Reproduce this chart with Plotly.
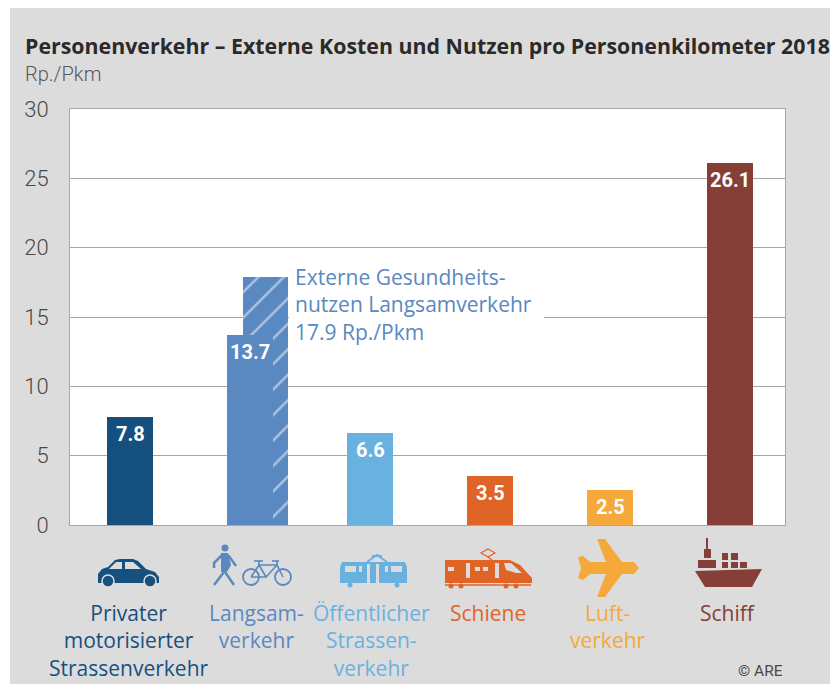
import plotly.graph_objects as go

categories = ["Privater motorisierter Strassenverkehr", "Langsamverkehr", "Öffentlicher Strassenverkehr", "Schiene", "Luftverkehr", "Schiff"]
values = [7.8, 13.7, 6.6, 3.5, 2.5, 26.1]
health_value = [17.9]
value_labels = ["7.8", "13.7", "6.6", "3.5", "2.5", "26.1"]
axis_labels = ["Privater<br>motorisierter<br>Strassenverkehr", "Langsam-<br>verkehr", "Öffentlicher<br>Strassen-<br>verkehr", "Schiene", "Luft-<br>verkehr", "Schiff"]
colors = ["#15507f", "#5a88c0", "#69b2df", "#e06426", "#f4a93a", "#853f37"]
y_ticks = [0, 5, 10, 15, 20, 25, 30]

BG = "#dddcdd"
GRID = "#a9a6a3"
FONT = "Roboto"
W, H = 830, 684
L, R, T, B = 70, 785, 109, 525

def fx(x): return (x - L) / (R - L)
def fy(y): return (B - y) / (B - T)

shapes = []
def poly(pts, color, close=True, width=0, lc=None):
    d = "M" + " L".join(f"{fx(x):.5f},{fy(y):.5f}" for x, y in pts) + (" Z" if close else "")
    shapes.append(dict(type="path", xref="paper", yref="paper", path=d, layer="above",
                       fillcolor=color if close else "rgba(0,0,0,0)",
                       line=dict(color=lc or color, width=width)))
def line(pts, color, width=2):
    poly(pts, color, close=False, width=width, lc=color)
def rect(x0, y0, x1, y1, color, layer="above"):
    shapes.append(dict(type="rect", xref="paper", yref="paper", x0=fx(x0), x1=fx(x1), y0=fy(y1), y1=fy(y0),
                       fillcolor=color, line=dict(width=0), layer=layer))
def circle(cx, cy, r, fill, lc=None, width=0):
    shapes.append(dict(type="circle", xref="paper", yref="paper", x0=fx(cx-r), x1=fx(cx+r), y0=fy(cy+r), y1=fy(cy-r),
                       fillcolor=fill, line=dict(color=lc or fill, width=width), layer="above"))

# white page strips outside the gray panel
rect(0, 0, 830, 8, "white")
rect(0, 0, 10, 684, "white")
# gridline gap behind the callout
rect(289, 300, 544, 335, "white")

# car
c = colors[0]
poly([(98,583),(98,574),(102,569),(108,567),(115,560),(120,559),(133,559),(138,561),(146,569),(155,572),(159,577),(159,583)], c)
poly([(109,569),(116,562),(122,562),(122,569)], BG)
poly([(125,562),(133,562),(141,569),(125,569)], BG)
circle(108, 581, 6, c, BG, 1.5)
circle(150, 581, 6, c, BG, 1.5)

# pedestrian and bicycle
c = colors[1]
circle(225, 548, 3.5, c)
poly([(221,553),(228,553),(231,565),(227,572),(221,572)], c)
line([(222,555),(214,563),(214,568)], c, 2.5)
line([(228,555),(236,566)], c, 2.5)
line([(224,572),(214,585)], c, 2.5)
line([(225,572),(234,585)], c, 2.5)
circle(251, 577, 8, "rgba(0,0,0,0)", c, 1.8)
circle(283, 577, 8, "rgba(0,0,0,0)", c, 1.8)
line([(251,577),(259,565),(277,565),(283,577)], c, 1.6)
line([(259,565),(266,577),(251,577)], c, 1.6)
line([(266,577),(277,565)], c, 1.6)
line([(254,561),(263,561)], c, 1.6)
line([(259,561),(259,565)], c, 1.6)
line([(272,561),(279,561)], c, 1.6)
line([(277,561),(277,565)], c, 1.6)

# tram
c = colors[2]
poly([(342,562),(405,562),(407,567),(407,583),(340,583),(340,567)], c)
line([(367,562),(377,555),(387,562)], c, 2)
line([(372,556),(382,556)], c, 2)
rect(345, 566, 356, 572, BG)
rect(359, 566, 362, 572, BG)
rect(367, 564, 370, 583, BG)
rect(376, 564, 379, 583, BG)
rect(385, 566, 388, 572, BG)
rect(391, 566, 402, 572, BG)
circle(350, 585, 2.5, c)
circle(397, 585, 2.5, c)

# train
c = colors[3]
poly([(445,560),(510,560),(520,565),(532,578),(532,583),(445,583)], c)
line([(445,585),(531,585)], c, 1.5)
poly([(488,549),(495,553),(488,557),(481,553)], "rgba(0,0,0,0)", width=1.2, lc=c)
line([(488,557),(492,560)], c, 1.5)
rect(448, 567, 454, 571, BG)
rect(466, 563, 470, 578, BG)
rect(475, 567, 480, 571, BG)
rect(483, 567, 488, 571, BG)
rect(495, 563, 499, 578, BG)
poly([(504,563),(511,563),(522,573),(516,573),(506,570)], BG)
for wx in (451, 461, 506, 516):
    circle(wx, 586, 2.5, c)

# plane
c = colors[4]
poly([(597,539),(605,539),(622,562),(634,562),(639,568),(634,574),(622,574),(605,597),(597,597),(606,574),(590,574),(583,580),(578,578),(581,568),(578,557),(583,556),(590,562),(606,562)], c)

# ship
c = colors[5]
poly([(695,571),(762,569),(752,587),(705,587)], c)
rect(698, 560, 716, 568, c)
rect(704, 549, 711, 558, c)
rect(706, 538, 708, 549, c)
rect(722, 553, 728, 560, c)
rect(731, 553, 738, 560, c)
rect(722, 562, 728, 568, c)
rect(731, 562, 738, 568, c)
rect(740, 562, 747, 568, c)

fig = go.Figure()
fig.add_trace(go.Bar(
    x=[categories[1]], y=health_value, width=[45/120], offset=[-7/120],
    marker=dict(color=colors[1], line=dict(width=0),
                pattern=dict(shape="/", fgcolor="white", bgcolor=colors[1], size=18, solidity=0.14)),
    hoverinfo="skip", showlegend=False))
fig.add_trace(go.Bar(
    x=categories, y=values, width=46/120, marker=dict(color=colors, line=dict(width=0)),
    showlegend=False))

def page(text, px, py, font, xanchor="left"):
    return dict(x=fx(px), y=fy(py), xref="paper", yref="paper", xanchor=xanchor, yanchor="middle",
                showarrow=False, text=text, font=font)

ann = [
    page("<b>Personenverkehr – Externe Kosten und Nutzen pro Personenkilometer 2018</b>", 23, 45,
         dict(family="Open Sans", size=21.35, color="#2b2a29")),
    page("Rp./Pkm", 23, 74, dict(family=FONT, size=20, color="#5a5755", weight=300)),
    page("© ARE", 785, 671, dict(family=FONT, size=15.5, color="#4a4846"), xanchor="right"),
]
for cat, v, t in zip(categories, values, value_labels):
    ann.append(dict(x=cat, y=v, xref="x", yref="y", yshift=-17, showarrow=False, text=f"<b>{t}</b>",
                    font=dict(family="Roboto", size=20, color="white")))
shifts = [-1, 6, 1, -2, -2, -2]
for cat, lab, col, s in zip(categories, axis_labels, colors, shifts):
    ann.append(dict(x=cat, xref="x", xshift=s, y=fy(597), yref="paper", yanchor="top", showarrow=False,
                    text=lab, align="center", font=dict(family="Open Sans", size=21, color=col)))
ann.append(dict(x=fx(293), y=fy(261), xref="paper", yref="paper", xanchor="left", yanchor="top",
                showarrow=False, align="left", text="Externe Gesundheits-<br>nutzen Langsamverkehr<br>17.9 Rp./Pkm",
                font=dict(family="Open Sans", size=21, color=colors[1])))

fig.update_layout(
    width=W, height=H, autosize=False, paper_bgcolor=BG, plot_bgcolor="white",
    margin=dict(l=L, r=W-R, t=T, b=H-B), barmode="overlay", bargap=0,
    shapes=shapes, annotations=ann,
    xaxis=dict(type="category", categoryorder="array", categoryarray=categories, range=[-0.5, 5.458],
               showticklabels=False, showgrid=False, ticks="", showline=True, linecolor=GRID, linewidth=1, mirror=True, zeroline=False),
    yaxis=dict(range=[0, 30], tickvals=y_ticks, ticks="", ticklabelstandoff=16, showline=True, linecolor=GRID, linewidth=1, mirror=True,
               gridcolor=GRID, gridwidth=1, zeroline=False,
               tickfont=dict(family=FONT, size=22, color="#4a4846", weight=300)),
)
fig.write_html("out.html", config=dict(displayModeBar=False),
               post_script="document.body.style.margin='0';document.documentElement.style.overflow='hidden';")
